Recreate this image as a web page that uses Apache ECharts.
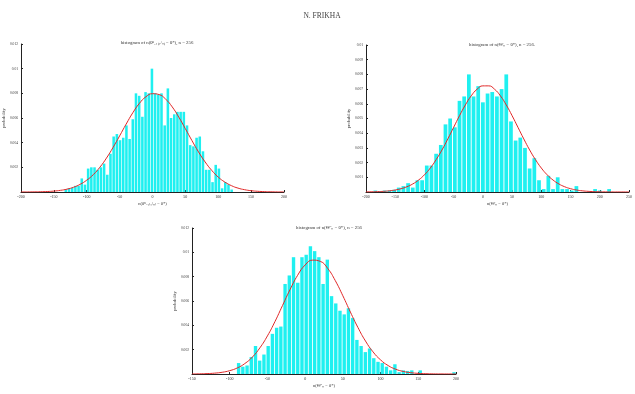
<!DOCTYPE html>
<html>
<head>
<meta charset="utf-8">
<script src="https://cdn.jsdelivr.net/npm/echarts@6.0.0/dist/echarts.min.js"></script>
<style>
  html, body { margin: 0; padding: 0; background: #fff; }
  #main { width: 635px; height: 394px; }
</style>
</head>
<body>
<div id="main"></div>
<script>
var chart = echarts.init(document.getElementById('main'), null, { renderer: 'canvas' });

// histogram 1 : bins start at -131.8, width 4.85
var binStart1 = -131.8;
var binWidth1 = 4.85;
var hist1 = [0.0002, 0.0003, 0.00035, 0.0005, 0.0005, 0.0011, 0.0006, 0.0019, 0.0020, 0.0020,
  0.0018, 0.0020, 0.0023, 0.0014, 0.0031, 0.0045, 0.0047, 0.0042, 0.0044, 0.0054,
  0.0043, 0.0059, 0.0080, 0.0078, 0.0061, 0.0081, 0.0080, 0.0100, 0.0080, 0.0079,
  0.0080, 0.0054, 0.0084, 0.0060, 0.0063, 0.0065, 0.0065, 0.0065, 0.0054, 0.0038,
  0.0037, 0.0044, 0.0045, 0.0033, 0.0018, 0.0018, 0.0008, 0.0022, 0.0019, 0.0003,
  0.0008, 0.0006, 0.0002];

// histogram 2 : bins start at -184, width 8
var binStart2 = -184;
var binWidth2 = 8;
var hist2 = [0.0001, 0.00005, 0.0001, 0.0001, 0.00015, 0.0003, 0.0004, 0.0006, 0.0003, 0.0008,
  0.0008, 0.0018, 0.0018, 0.0026, 0.0032, 0.0046, 0.0050, 0.0044, 0.0062, 0.0065,
  0.0080, 0.0065, 0.0072, 0.0061, 0.0067, 0.0068, 0.0065, 0.0070, 0.0080, 0.0048,
  0.0035, 0.0037, 0.0030, 0.0016, 0.0023, 0.0008, 0.0002, 0.0011, 0.0002, 0.0010,
  0.0002, 0.0002, 0.0001, 0.0004, 0, 0, 0.00005, 0.0002, 0.0001, 0, 0.0002];

// histogram 3 : bins start at -88.2, width 5.6
var binStart3 = -88.2;
var binWidth3 = 5.6;
var hist3 = [0.0009, 0.0006, 0.0007, 0.0014, 0.0023, 0.0011, 0.0016, 0.0023, 0.0033, 0.0038,
  0.0039, 0.0074, 0.0081, 0.0096, 0.0075, 0.0096, 0.0098, 0.0105, 0.0101, 0.0096,
  0.0074, 0.0094, 0.0064, 0.0058, 0.0052, 0.0049, 0.0054, 0.0046, 0.0028, 0.0023,
  0.0018, 0.0021, 0.0013, 0.0010, 0.0009, 0.0006, 0.0003, 0.0008, 0.00015, 0.0003,
  0.00025, 0.0003, 0, 0.0003, 0, 0, 0, 0, 0, 0, 0, 0.00015];

// fitted densities, read every 10 units
var curveStep = 10;
var curveStart1 = -200;
var pdf1 = [0.000002, 0.000005, 0.00001, 0.00002, 0.000039, 0.000074, 0.000134, 0.000231, 0.000386, 0.000623,
  0.00096, 0.00141, 0.00201, 0.00275, 0.00361, 0.00455, 0.00551, 0.00642, 0.00718, 0.00772,
  0.00797, 0.0079, 0.00753, 0.0069, 0.00607, 0.00513, 0.00417, 0.00325, 0.00244, 0.00176,
  0.00121, 0.000808, 0.000516, 0.000316, 0.000188, 0.000106, 0.000058, 0.00003, 0.000015, 0.000007,
  0.000003];
var curveStart2 = -200;
var pdf2 = [0.000007, 0.000014, 0.000025, 0.000046, 0.000081, 0.000137, 0.000225, 0.000357, 0.000548, 0.000815,
  0.00117, 0.00163, 0.0022, 0.00286, 0.00361, 0.0044, 0.00519, 0.00592, 0.00654, 0.00699,
  0.00722, 0.00722, 0.00699, 0.00654, 0.00592, 0.00519, 0.0044, 0.00361, 0.00286, 0.0022,
  0.00163, 0.00117, 0.000815, 0.000548, 0.000357, 0.000225, 0.000137, 0.000081, 0.000046, 0.000025,
  0.000014, 0.000007, 0.000004, 0.000002, 0.000001, 0.0000004];
var curveStart3 = -150;
var pdf3 = [0.000006, 0.000014, 0.000033, 0.00007, 0.000142, 0.000274, 0.000498, 0.000857, 0.00139, 0.00215,
  0.00313, 0.00431, 0.00563, 0.00694, 0.00811, 0.00896, 0.00936, 0.00926, 0.00867, 0.00767,
  0.00643, 0.00509, 0.00382, 0.00271, 0.00182, 0.00116, 0.000695, 0.000394, 0.000212, 0.000108,
  0.000052, 0.000024, 0.00001, 0.000004, 0.000002, 0.000001];

var titles = ['histogram of n(θ\u207f\u208b\u2081\u208d\u2081/\u2099\u208e \u2212 θ*), n = 256',
  'histogram of n(Θ\u1d5e\u2099 \u2212 θ*), n = 256.',
  'histogram of n(Θ\u1d5e\u2032\u2099 \u2212 θ*), n = 256'];
var xNames = ['n(θ\u207f\u208b\u2081\u208d\u2081/\u2099\u208e \u2212 θ*)', 'n(Θ\u1d5e\u2099 \u2212 θ*)', 'n(Θ\u1d5e\u2032\u2099 \u2212 θ*)'];

var serif = 'Liberation Serif';
var axisColor = '#222';

function binData(start, width, heights) {
  return heights.map(function (h, i) { return [start + i * width, h]; });
}
function curveData(start, values) {
  return values.map(function (v, i) { return [start + i * curveStep, v]; });
}
function barSeries(idx, width, data) {
  return {
    type: 'custom',
    xAxisIndex: idx,
    yAxisIndex: idx,
    data: data,
    clip: true,
    renderItem: function (params, api) {
      var x = api.value(0), y = api.value(1);
      var p0 = api.coord([x - width * 0.4, y]);
      var p1 = api.coord([x + width * 0.4, 0]);
      return {
        type: 'rect',
        shape: { x: p0[0], y: p0[1], width: p1[0] - p0[0], height: p1[1] - p0[1] },
        style: { fill: '#1ff0f0' }
      };
    },
    z: 2
  };
}
function lineSeries(idx, data) {
  return {
    type: 'line',
    xAxisIndex: idx,
    yAxisIndex: idx,
    data: data,
    smooth: true,
    showSymbol: false,
    lineStyle: { color: '#e02828', width: 1 },
    z: 3
  };
}
function xAxis(idx, min, max) {
  return {
    type: 'value', gridIndex: idx, min: min, max: max, interval: 50,
    axisLine: { show: true, onZero: false, lineStyle: { color: axisColor, width: 1 } },
    axisTick: { show: true, inside: true, length: 2, lineStyle: { color: axisColor } },
    axisLabel: { fontSize: 4, color: '#333', margin: 3, fontFamily: serif },
    splitLine: { show: false },
    name: xNames[idx], nameLocation: 'middle', nameGap: 9,
    nameTextStyle: { fontSize: 4.5, color: '#333', fontFamily: serif }
  };
}
function yAxis(idx, max, interval) {
  return {
    type: 'value', gridIndex: idx, min: 0, max: max, interval: interval,
    axisLine: { show: true, onZero: false, lineStyle: { color: axisColor, width: 1 } },
    axisTick: { show: true, inside: true, length: 2, lineStyle: { color: axisColor } },
    axisLabel: { fontSize: 3.6, color: '#333', margin: 3, fontFamily: serif, showMinLabel: false },
    splitLine: { show: false },
    name: 'probability', nameLocation: 'middle', nameGap: 14, nameRotate: 90,
    nameTextStyle: { fontSize: 4.5, color: '#333', fontFamily: serif }
  };
}
function plotTitle(text, x, y) {
  return {
    text: text, left: x, top: y, textAlign: 'center',
    textStyle: { fontSize: 4.8, fontWeight: 'normal', color: '#333', fontFamily: serif }
  };
}

var option = {
  animation: false,
  title: [
    { text: 'N. FRIKHA', left: 317, top: 7, textAlign: 'center',
      textStyle: { fontSize: 7.5, fontWeight: 'normal', color: '#444', fontFamily: serif } },
    plotTitle(titles[0], 152, 35),
    plotTitle(titles[1], 497, 37),
    plotTitle(titles[2], 324, 220)
  ],
  grid: [
    { left: 20, top: 44, width: 264, height: 148 },
    { left: 366, top: 45, width: 263, height: 147 },
    { left: 192, top: 228, width: 264, height: 146 }
  ],
  xAxis: [xAxis(0, -200, 200), xAxis(1, -200, 250), xAxis(2, -150, 200)],
  yAxis: [yAxis(0, 0.012, 0.002), yAxis(1, 0.01, 0.001), yAxis(2, 0.012, 0.002)],
  series: [
    barSeries(0, binWidth1, binData(binStart1, binWidth1, hist1)),
    lineSeries(0, curveData(curveStart1, pdf1)),
    barSeries(1, binWidth2, binData(binStart2, binWidth2, hist2)),
    lineSeries(1, curveData(curveStart2, pdf2)),
    barSeries(2, binWidth3, binData(binStart3, binWidth3, hist3)),
    lineSeries(2, curveData(curveStart3, pdf3))
  ]
};

chart.setOption(option);
window.addEventListener('resize', chart.resize);
</script>
</body>
</html>
